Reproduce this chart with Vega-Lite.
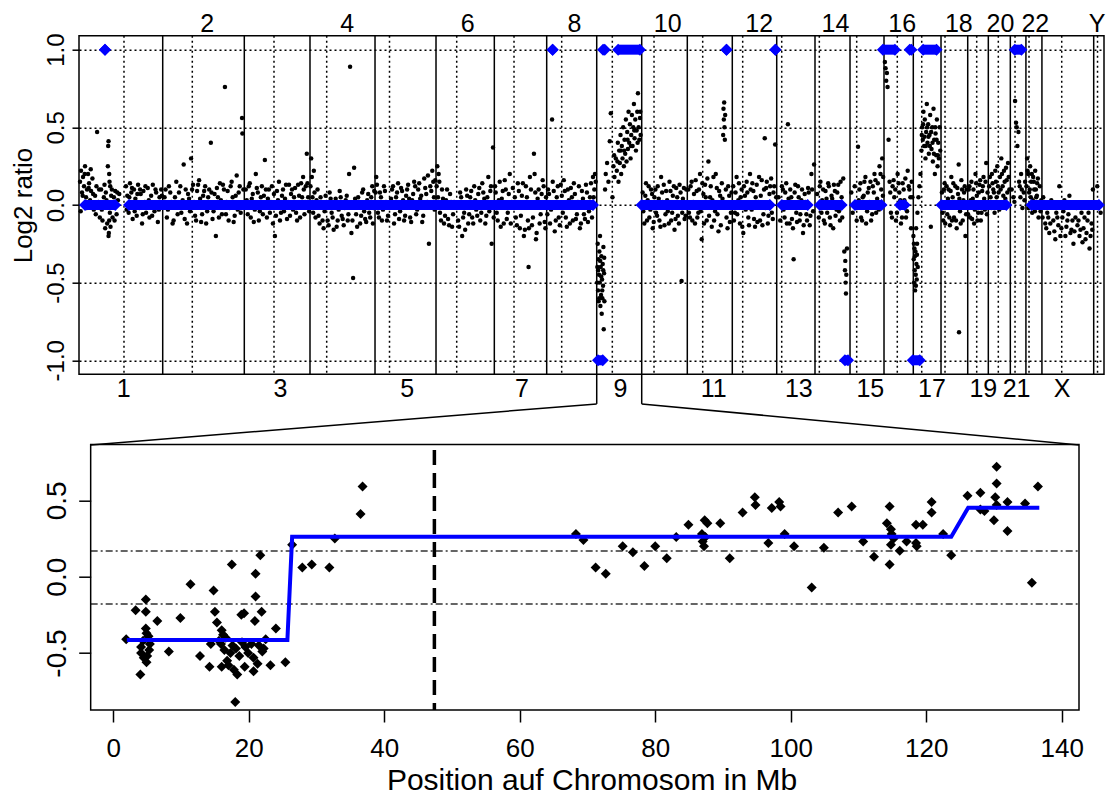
{
"$schema": "https://vega.github.io/schema/vega-lite/v6.json",
"width": 1025,
"height": 674.3,
"autosize": {"type": "none"},
"padding": {"left": 79, "top": 35.7, "right": 3, "bottom": 86},
"background": "white",
"config": {"view": {"stroke": null}, "font": "Liberation Sans", "axis": {"labelFont": "Liberation Sans", "titleFont": "Liberation Sans", "labelColor": "black", "titleColor": "black", "tickColor": "black"}},
"datasets": {
"cen": [{"g":134.1},{"g":337.7},{"g":581.2},{"g":738.3},{"g":925.5},{"g":1125.8},{"g":1296.6},{"g":1438.7},{"g":1589.6},{"g":1713.9},{"g":1859.0},{"g":1978.2},{"g":2094.5},{"g":2206.6},{"g":2318.0},{"g":2439.0},{"g":2511.8},{"g":2581.2},{"g":2675.7},{"g":2740.1},{"g":2789.9},{"g":2831.6},{"g":2929.1},{"g":3035.8}],
"bnd": [{"g":249.5},{"g":492.7},{"g":688.5},{"g":882.3},{"g":1064.1},{"g":1237.9},{"g":1394.0},{"g":1543.1},{"g":1677.2},{"g":1813.1},{"g":1947.2},{"g":2079.6},{"g":2193.7},{"g":2298.1},{"g":2399.4},{"g":2486.7},{"g":2569.3},{"g":2648.9},{"g":2710.3},{"g":2775.9},{"g":2822.4},{"g":2870.1},{"g":3024.4}],
"conn": [{"g":1543.1,"v":-1.09,"g2":1543.1,"v2":-1.281},{"g":1543.1,"v":-1.281,"g2":34.9,"v2":-1.545},{"g":1677.2,"v":-1.09,"g2":1677.2,"v2":-1.281},{"g":1677.2,"v":-1.281,"g2":2980.6,"v2":-1.545}],
"seg": [{"g":18,"g2":108,"v":0},{"g":149,"g2":1532,"v":0},{"g":1677,"g2":2059,"v":0},{"g":2095,"g2":2172,"v":0},{"g":2208,"g2":2273,"v":0},{"g":2313,"g2":2392,"v":0},{"g":2447,"g2":2461,"v":0},{"g":2571,"g2":2764,"v":0},{"g":2839,"g2":3040,"v":0},
{"g":77.5,"g2":77.5,"v":1},{"g":1411.6,"g2":1411.6,"v":1},{"g":1562,"g2":1567,"v":1},{"g":1607,"g2":1672,"v":1},{"g":1930,"g2":1930,"v":1},{"g":2075.6,"g2":2075.6,"v":1},{"g":2396,"g2":2432,"v":1},{"g":2476,"g2":2481,"v":1},{"g":2516,"g2":2556,"v":1},{"g":2789,"g2":2809,"v":1},
{"g":1547,"g2":1561,"v":-1},{"g":2283,"g2":2292,"v":-1},{"g":2485,"g2":2506,"v":-1}],
"gw": [
{"g":3,"v":0.15},{"g":6,"v":0.22},{"g":9,"v":0.08},{"g":12,"v":0.18},{"g":15,"v":0.12},{"g":18,"v":0.25},{"g":21,"v":0.05},{"g":24,"v":0.1},{"g":27,"v":0.2},{"g":30,"v":0.14},{"g":33,"v":0.03},{"g":36,"v":0.09},{"g":40,"v":0.17},{"g":44,"v":-0.03},{"g":48,"v":0.06},{"g":52,"v":0.12},{"g":54,"v":0.47},{"g":58,"v":0.02},{"g":62,"v":-0.08},{"g":66,"v":0.1},{"g":70,"v":-0.1},{"g":74,"v":0.05},{"g":78,"v":-0.15},{"g":80,"v":0.08},{"g":84,"v":-0.12},{"g":86,"v":0.25},{"g":87,"v":0.38},{"g":88,"v":0.41},{"g":88,"v":-0.2},{"g":89,"v":-0.18},{"g":90,"v":0.2},{"g":90,"v":-0.1},{"g":91,"v":0.15},{"g":92,"v":-0.05},{"g":93,"v":0.12},{"g":94,"v":-0.14},{"g":96,"v":0.06},{"g":100,"v":-0.08},{"g":104,"v":0.05},{"g":108,"v":0.09},{"g":112,"v":-0.06},{"g":116,"v":0.03},{"g":120,"v":0.07},{"g":140,"v":0.12},{"g":144,"v":0.06},{"g":148,"v":-0.05},{"g":152,"v":0.14},{"g":156,"v":0.08},{"g":160,"v":-0.09},{"g":164,"v":0.1},{"g":168,"v":0.04},{"g":172,"v":-0.07},{"g":176,"v":0.13},{"g":180,"v":-0.02},{"g":184,"v":0.07},{"g":188,"v":-0.12},{"g":192,"v":0.09},{"g":196,"v":0.02},{"g":200,"v":-0.05},{"g":205,"v":0.11},{"g":210,"v":-0.08},{"g":215,"v":0.06},{"g":220,"v":0.13},{"g":225,"v":-0.04},{"g":230,"v":0.08},{"g":235,"v":-0.11},{"g":240,"v":0.05},{"g":245,"v":0.1},
{"g":5,"v":-0.04},{"g":11,"v":0.06},{"g":17,"v":0.2},{"g":23,"v":-0.02},{"g":29,"v":0.11},{"g":35,"v":0.23},{"g":42,"v":0.07},{"g":50,"v":-0.06},{"g":60,"v":0.1},{"g":68,"v":-0.03},{"g":76,"v":0.13},{"g":82,"v":0.03},{"g":98,"v":0.1},{"g":106,"v":-0.1},{"g":114,"v":0.08},{"g":142,"v":-0.03},{"g":150,"v":0.05},{"g":158,"v":0.11},{"g":166,"v":-0.04},{"g":174,"v":0.07},{"g":182,"v":0.1},{"g":190,"v":-0.06},{"g":198,"v":0.12},{"g":208,"v":0.03},{"g":218,"v":-0.07},{"g":228,"v":0.1},{"g":238,"v":-0.03},{"g":247,"v":0.06},
{"g":255,"v":0.05},{"g":262,"v":-0.08},{"g":268,"v":0.12},{"g":275,"v":0.02},{"g":282,"v":-0.1},{"g":290,"v":0.15},{"g":298,"v":0.08},{"g":305,"v":-0.05},{"g":312,"v":0.26},{"g":318,"v":0.1},{"g":322,"v":-0.12},{"g":328,"v":0.04},{"g":334,"v":0.3},{"g":340,"v":0.13},{"g":346,"v":-0.07},{"g":352,"v":0.09},{"g":358,"v":0.16},{"g":364,"v":-0.11},{"g":370,"v":0.06},{"g":376,"v":0.12},{"g":382,"v":-0.04},{"g":388,"v":0.1},{"g":393,"v":0.4},{"g":398,"v":-0.09},{"g":404,"v":0.07},{"g":408,"v":-0.2},{"g":414,"v":0.05},{"g":420,"v":0.14},{"g":426,"v":-0.06},{"g":432,"v":0.1},{"g":435,"v":0.76},{"g":440,"v":0.02},{"g":446,"v":-0.1},{"g":452,"v":0.12},{"g":458,"v":0.05},{"g":464,"v":-0.07},{"g":470,"v":0.19},{"g":476,"v":0.08},{"g":482,"v":-0.05},{"g":486,"v":0.56},{"g":487,"v":0.46},{"g":490,"v":0.1},
{"g":258,"v":0.1},{"g":265,"v":-0.03},{"g":272,"v":0.08},{"g":279,"v":-0.12},{"g":286,"v":0.05},{"g":294,"v":-0.06},{"g":302,"v":0.12},{"g":309,"v":0.03},{"g":315,"v":-0.09},{"g":325,"v":0.07},{"g":331,"v":-0.04},{"g":337,"v":0.1},{"g":343,"v":0.02},{"g":349,"v":-0.1},{"g":355,"v":0.13},{"g":361,"v":0.04},{"g":367,"v":-0.06},{"g":373,"v":0.09},{"g":379,"v":-0.12},{"g":385,"v":0.05},{"g":395,"v":0.08},{"g":401,"v":-0.04},{"g":411,"v":0.11},{"g":417,"v":-0.08},{"g":423,"v":0.03},{"g":429,"v":0.13},{"g":438,"v":-0.06},{"g":443,"v":0.09},{"g":449,"v":-0.02},{"g":455,"v":0.15},{"g":461,"v":-0.11},{"g":467,"v":0.06},{"g":473,"v":-0.03},{"g":479,"v":0.12},
{"g":497,"v":0.1},{"g":503,"v":-0.06},{"g":509,"v":0.14},{"g":515,"v":0.04},{"g":521,"v":-0.11},{"g":527,"v":0.2},{"g":533,"v":0.08},{"g":539,"v":-0.04},{"g":545,"v":0.12},{"g":551,"v":0.06},{"g":554,"v":0.29},{"g":560,"v":-0.08},{"g":566,"v":0.1},{"g":572,"v":0.02},{"g":578,"v":-0.12},{"g":584,"v":-0.2},{"g":590,"v":0.09},{"g":596,"v":0.15},{"g":602,"v":-0.05},{"g":608,"v":0.1},{"g":614,"v":0.04},{"g":620,"v":-0.09},{"g":626,"v":0.13},{"g":632,"v":0.07},{"g":638,"v":-0.03},{"g":644,"v":0.11},{"g":650,"v":-0.1},{"g":656,"v":0.06},{"g":662,"v":0.14},{"g":668,"v":0.18},{"g":672,"v":-0.06},{"g":676,"v":0.12},{"g":679,"v":0.33},{"g":683,"v":0.05},
{"g":500,"v":0.03},{"g":506,"v":0.12},{"g":512,"v":-0.08},{"g":518,"v":0.07},{"g":524,"v":-0.03},{"g":530,"v":0.11},{"g":536,"v":-0.1},{"g":542,"v":0.05},{"g":548,"v":-0.06},{"g":557,"v":0.1},{"g":563,"v":0.04},{"g":569,"v":-0.05},{"g":575,"v":0.12},{"g":581,"v":0.07},{"g":587,"v":-0.07},{"g":593,"v":0.03},{"g":599,"v":-0.1},{"g":605,"v":0.06},{"g":611,"v":-0.04},{"g":617,"v":0.13},{"g":623,"v":0.02},{"g":629,"v":-0.07},{"g":635,"v":0.1},{"g":641,"v":0.05},{"g":647,"v":-0.05},{"g":653,"v":0.13},{"g":659,"v":-0.08},{"g":665,"v":0.05},{"g":670,"v":0.1},{"g":674,"v":0.02},{"g":681,"v":0.14},{"g":686,"v":-0.04},
{"g":692,"v":0.3},{"g":696,"v":0.05},{"g":700,"v":0.22},{"g":705,"v":-0.08},{"g":711,"v":0.1},{"g":717,"v":-0.12},{"g":723,"v":0.02},{"g":729,"v":-0.15},{"g":735,"v":0.06},{"g":741,"v":-0.1},{"g":747,"v":0.08},{"g":753,"v":-0.05},{"g":759,"v":-0.16},{"g":765,"v":0.04},{"g":771,"v":-0.1},{"g":777,"v":0.09},{"g":783,"v":-0.07},{"g":789,"v":-0.13},{"g":795,"v":0.03},{"g":801,"v":-0.1},{"g":805,"v":0.2},{"g":808,"v":0.89},{"g":812,"v":-0.18},{"g":817,"v":-0.47},{"g":820,"v":0.24},{"g":826,"v":-0.06},{"g":832,"v":0.05},{"g":838,"v":-0.12},{"g":844,"v":0.08},{"g":850,"v":-0.04},{"g":856,"v":-0.11},{"g":862,"v":0.07},{"g":868,"v":-0.08},{"g":874,"v":0.12},{"g":878,"v":-0.02},
{"g":690,"v":0.12},{"g":694,"v":0.18},{"g":698,"v":-0.05},{"g":702,"v":0.08},{"g":708,"v":0.03},{"g":714,"v":-0.07},{"g":720,"v":0.05},{"g":726,"v":-0.1},{"g":732,"v":-0.04},{"g":738,"v":0.02},{"g":744,"v":-0.13},{"g":750,"v":0.04},{"g":756,"v":-0.08},{"g":762,"v":0.01},{"g":768,"v":-0.14},{"g":774,"v":-0.03},{"g":780,"v":0.05},{"g":786,"v":-0.09},{"g":792,"v":-0.02},{"g":798,"v":0.06},{"g":803,"v":-0.06},{"g":815,"v":-0.1},{"g":823,"v":0.04},{"g":829,"v":-0.14},{"g":835,"v":0.02},{"g":841,"v":-0.07},{"g":847,"v":0.1},{"g":853,"v":-0.09},{"g":859,"v":0.03},{"g":865,"v":-0.05},{"g":871,"v":0.05},{"g":876,"v":-0.12},{"g":880,"v":0.09},
{"g":886,"v":0.18},{"g":891,"v":-0.05},{"g":897,"v":0.08},{"g":903,"v":-0.1},{"g":909,"v":0.12},{"g":915,"v":0.02},{"g":921,"v":-0.07},{"g":933,"v":0.1},{"g":939,"v":-0.12},{"g":945,"v":0.05},{"g":951,"v":0.14},{"g":957,"v":-0.04},{"g":963,"v":0.09},{"g":969,"v":-0.1},{"g":975,"v":0.06},{"g":981,"v":0.13},{"g":987,"v":-0.08},{"g":993,"v":0.03},{"g":999,"v":0.15},{"g":1005,"v":-0.06},{"g":1011,"v":0.1},{"g":1017,"v":0.04},{"g":1023,"v":-0.11},{"g":1029,"v":0.17},{"g":1035,"v":0.07},{"g":1043,"v":-0.25},{"g":1047,"v":0.12},{"g":1053,"v":0.22},{"g":1058,"v":0.05},{"g":1062,"v":0.16},
{"g":884,"v":0.08},{"g":888,"v":0.13},{"g":894,"v":-0.08},{"g":900,"v":0.05},{"g":906,"v":-0.03},{"g":912,"v":0.09},{"g":918,"v":-0.1},{"g":930,"v":0.04},{"g":936,"v":0.12},{"g":942,"v":-0.06},{"g":948,"v":0.08},{"g":954,"v":-0.09},{"g":960,"v":0.11},{"g":966,"v":0.03},{"g":972,"v":-0.07},{"g":978,"v":0.1},{"g":984,"v":0.04},{"g":990,"v":-0.11},{"g":996,"v":0.07},{"g":1002,"v":0.12},{"g":1008,"v":-0.03},{"g":1014,"v":0.14},{"g":1020,"v":0.06},{"g":1026,"v":-0.07},{"g":1032,"v":0.11},{"g":1038,"v":0.02},{"g":1040,"v":0.19},{"g":1050,"v":0.09},{"g":1056,"v":0.15},{"g":1060,"v":-0.03},
{"g":1068,"v":0.25},{"g":1072,"v":0.2},{"g":1076,"v":-0.05},{"g":1082,"v":0.1},{"g":1088,"v":-0.12},{"g":1094,"v":0.03},{"g":1100,"v":-0.09},{"g":1106,"v":0.07},{"g":1112,"v":-0.14},{"g":1118,"v":0.02},{"g":1130,"v":-0.1},{"g":1136,"v":0.08},{"g":1142,"v":-0.2},{"g":1148,"v":-0.05},{"g":1154,"v":0.1},{"g":1160,"v":-0.12},{"g":1166,"v":0.05},{"g":1172,"v":-0.08},{"g":1178,"v":0.12},{"g":1184,"v":-0.03},{"g":1190,"v":0.07},{"g":1196,"v":-0.1},{"g":1202,"v":0.14},{"g":1208,"v":0.04},{"g":1214,"v":-0.07},{"g":1220,"v":0.18},{"g":1226,"v":0.09},{"g":1230,"v":-0.25},{"g":1234,"v":0.37},
{"g":1066,"v":0.12},{"g":1070,"v":0.05},{"g":1074,"v":0.15},{"g":1079,"v":-0.1},{"g":1085,"v":0.04},{"g":1091,"v":-0.07},{"g":1097,"v":0.1},{"g":1103,"v":-0.13},{"g":1109,"v":0.02},{"g":1115,"v":-0.06},{"g":1133,"v":-0.14},{"g":1139,"v":0.05},{"g":1145,"v":-0.08},{"g":1151,"v":-0.16},{"g":1157,"v":0.06},{"g":1163,"v":-0.06},{"g":1169,"v":0.09},{"g":1175,"v":-0.12},{"g":1181,"v":0.03},{"g":1187,"v":-0.07},{"g":1193,"v":0.11},{"g":1199,"v":-0.05},{"g":1205,"v":0.08},{"g":1211,"v":-0.12},{"g":1217,"v":0.05},{"g":1223,"v":-0.04},{"g":1228,"v":0.12},{"g":1236,"v":-0.08},
{"g":1242,"v":0.08},{"g":1248,"v":-0.1},{"g":1254,"v":0.15},{"g":1260,"v":0.04},{"g":1266,"v":-0.12},{"g":1272,"v":0.1},{"g":1278,"v":-0.05},{"g":1284,"v":0.2},{"g":1290,"v":0.02},{"g":1302,"v":-0.08},{"g":1308,"v":0.14},{"g":1314,"v":-0.15},{"g":1320,"v":0.06},{"g":1326,"v":-0.2},{"g":1332,"v":0.12},{"g":1338,"v":-0.1},{"g":1340,"v":-0.4},{"g":1344,"v":0.18},{"g":1350,"v":-0.13},{"g":1356,"v":0.33},{"g":1360,"v":0.08},{"g":1364,"v":-0.18},{"g":1370,"v":0.1},{"g":1376,"v":-0.06},{"g":1382,"v":0.16},{"g":1388,"v":-0.11},{"g":1392,"v":0.05},
{"g":1240,"v":0.12},{"g":1245,"v":-0.05},{"g":1251,"v":0.03},{"g":1257,"v":-0.14},{"g":1263,"v":0.09},{"g":1269,"v":0.16},{"g":1275,"v":-0.09},{"g":1281,"v":0.07},{"g":1287,"v":-0.12},{"g":1293,"v":0.11},{"g":1299,"v":0.05},{"g":1305,"v":-0.13},{"g":1311,"v":0.09},{"g":1317,"v":-0.07},{"g":1323,"v":0.14},{"g":1329,"v":-0.16},{"g":1335,"v":0.05},{"g":1341,"v":-0.15},{"g":1347,"v":0.1},{"g":1353,"v":-0.08},{"g":1358,"v":0.2},{"g":1362,"v":-0.22},{"g":1367,"v":0.04},{"g":1373,"v":-0.12},{"g":1379,"v":0.07},{"g":1385,"v":0.12},{"g":1390,"v":-0.15},
{"g":1398,"v":0.1},{"g":1404,"v":-0.12},{"g":1410,"v":0.55},{"g":1412,"v":0.15},{"g":1418,"v":-0.17},{"g":1424,"v":0.05},{"g":1430,"v":-0.08},{"g":1436,"v":0.13},{"g":1442,"v":-0.05},{"g":1448,"v":0.09},{"g":1454,"v":-0.14},{"g":1460,"v":0.03},{"g":1466,"v":0.11},{"g":1472,"v":-0.1},{"g":1478,"v":0.07},{"g":1484,"v":-0.06},{"g":1490,"v":0.12},{"g":1496,"v":-0.12},{"g":1502,"v":0.04},{"g":1508,"v":-0.09},{"g":1514,"v":0.08},{"g":1520,"v":-0.04},{"g":1526,"v":0.14},{"g":1532,"v":0.18},{"g":1536,"v":0.1},{"g":1540,"v":0.15},
{"g":1396,"v":-0.06},{"g":1401,"v":0.07},{"g":1407,"v":-0.03},{"g":1415,"v":0.09},{"g":1421,"v":-0.1},{"g":1427,"v":0.12},{"g":1433,"v":-0.13},{"g":1439,"v":0.06},{"g":1445,"v":0.16},{"g":1451,"v":-0.08},{"g":1457,"v":0.1},{"g":1463,"v":-0.12},{"g":1469,"v":0.05},{"g":1475,"v":0.14},{"g":1481,"v":-0.09},{"g":1487,"v":0.02},{"g":1493,"v":-0.15},{"g":1499,"v":0.09},{"g":1505,"v":-0.06},{"g":1511,"v":0.13},{"g":1517,"v":-0.11},{"g":1523,"v":0.05},{"g":1529,"v":-0.08},{"g":1534,"v":0.05},{"g":1538,"v":0.2},
{"g":1545,"v":-0.4},{"g":1546,"v":-0.25},{"g":1547,"v":-0.55},{"g":1548,"v":-0.35},{"g":1549,"v":-0.62},{"g":1550,"v":-0.45},{"g":1551,"v":-0.3},{"g":1552,"v":-0.5},{"g":1553,"v":-0.2},{"g":1554,"v":-0.65},{"g":1555,"v":-0.4},{"g":1556,"v":-0.58},{"g":1557,"v":-0.33},{"g":1558,"v":-0.7},{"g":1559,"v":-0.48},{"g":1560,"v":-0.6},{"g":1561,"v":-0.38},{"g":1562,"v":-0.52},{"g":1563,"v":-0.27},{"g":1564,"v":-0.8},{"g":1565,"v":-0.44},{"g":1566,"v":-0.62},{"g":1568,"v":0.1},{"g":1570,"v":0.2},{"g":1574,"v":0.27},{"g":1578,"v":0.15},{"g":1582,"v":0.41},{"g":1585,"v":0.59},{"g":1590,"v":0.05},{"g":1593,"v":0.25},{"g":1596,"v":0.18},{"g":1600,"v":0.3},{"g":1603,"v":0.22},{"g":1606,"v":0.4},{"g":1608,"v":0.15},{"g":1610,"v":0.35},{"g":1612,"v":0.27},{"g":1614,"v":0.45},{"g":1616,"v":0.2},{"g":1618,"v":0.38},{"g":1620,"v":0.3},{"g":1622,"v":0.5},{"g":1624,"v":0.25},{"g":1626,"v":0.42},{"g":1628,"v":0.33},{"g":1630,"v":0.55},{"g":1632,"v":0.28},{"g":1634,"v":0.47},{"g":1636,"v":0.36},{"g":1638,"v":0.6},{"g":1640,"v":0.4},{"g":1642,"v":0.52},{"g":1644,"v":0.3},{"g":1646,"v":0.45},{"g":1648,"v":0.58},{"g":1650,"v":0.38},{"g":1652,"v":0.5},{"g":1654,"v":0.65},{"g":1656,"v":0.43},{"g":1658,"v":0.55},{"g":1660,"v":0.35},{"g":1662,"v":0.48},{"g":1664,"v":0.6},{"g":1666,"v":0.72},{"g":1668,"v":0.5},{"g":1670,"v":0.42},{"g":1672,"v":0.56},{"g":1674,"v":0.45},
{"g":1544.5,"v":-0.5},{"g":1547.5,"v":-0.42},{"g":1550.5,"v":-0.6},{"g":1553.5,"v":-0.36},{"g":1556.5,"v":-0.46},{"g":1559.5,"v":-0.55},{"g":1562.5,"v":-0.42},{"g":1565.5,"v":-0.34},{"g":1595,"v":0.32},{"g":1605,"v":0.28},{"g":1615,"v":0.35},{"g":1625,"v":0.35},{"g":1635,"v":0.42},{"g":1645,"v":0.38},{"g":1655,"v":0.48},{"g":1665,"v":0.4},{"g":1673,"v":0.6},
{"g":1680,"v":0.08},{"g":1685,"v":-0.12},{"g":1690,"v":0.14},{"g":1695,"v":0.03},{"g":1700,"v":-0.08},{"g":1705,"v":0.1},{"g":1710,"v":-0.15},{"g":1715,"v":0.05},{"g":1720,"v":-0.05},{"g":1725,"v":0.12},{"g":1730,"v":-0.1},{"g":1735,"v":0.18},{"g":1740,"v":0.02},{"g":1745,"v":-0.13},{"g":1750,"v":0.09},{"g":1755,"v":-0.04},{"g":1760,"v":0.15},{"g":1765,"v":-0.1},{"g":1770,"v":0.06},{"g":1775,"v":-0.16},{"g":1780,"v":0.11},{"g":1785,"v":-0.07},{"g":1790,"v":0.13},{"g":1796,"v":-0.49},{"g":1800,"v":0.04},{"g":1805,"v":-0.09},{"g":1810,"v":0.1},
{"g":1682,"v":-0.04},{"g":1688,"v":0.06},{"g":1693,"v":-0.1},{"g":1698,"v":0.12},{"g":1703,"v":-0.03},{"g":1708,"v":0.07},{"g":1713,"v":-0.11},{"g":1718,"v":0.1},{"g":1723,"v":-0.07},{"g":1728,"v":0.04},{"g":1733,"v":-0.14},{"g":1738,"v":0.08},{"g":1743,"v":0.13},{"g":1748,"v":-0.06},{"g":1753,"v":0.03},{"g":1758,"v":-0.12},{"g":1763,"v":0.09},{"g":1768,"v":-0.05},{"g":1773,"v":0.12},{"g":1778,"v":-0.09},{"g":1783,"v":0.05},{"g":1788,"v":-0.12},{"g":1793,"v":0.08},{"g":1798,"v":-0.05},{"g":1803,"v":0.11},{"g":1808,"v":-0.07},
{"g":1816,"v":0.1},{"g":1821,"v":-0.08},{"g":1826,"v":0.15},{"g":1831,"v":0.02},{"g":1836,"v":-0.12},{"g":1841,"v":0.09},{"g":1846,"v":-0.05},{"g":1851,"v":0.2},{"g":1856,"v":-0.22},{"g":1861,"v":0.07},{"g":1866,"v":0.13},{"g":1871,"v":-0.1},{"g":1876,"v":0.28},{"g":1881,"v":0.05},{"g":1886,"v":-0.14},{"g":1891,"v":0.18},{"g":1896,"v":-0.04},{"g":1901,"v":0.11},{"g":1906,"v":-0.17},{"g":1911,"v":0.06},{"g":1916,"v":0.14},{"g":1920,"v":0.45},{"g":1921,"v":0.62},{"g":1922,"v":0.55},{"g":1923,"v":0.66},{"g":1924,"v":0.5},{"g":1925,"v":0.42},{"g":1926,"v":0.58},{"g":1930,"v":-0.08},{"g":1935,"v":0.12},{"g":1940,"v":-0.11},{"g":1945,"v":0.08},
{"g":1818,"v":-0.05},{"g":1823,"v":0.12},{"g":1828,"v":-0.1},{"g":1833,"v":0.07},{"g":1838,"v":0.16},{"g":1843,"v":-0.08},{"g":1848,"v":0.1},{"g":1853,"v":-0.04},{"g":1858,"v":0.14},{"g":1863,"v":-0.12},{"g":1868,"v":0.05},{"g":1873,"v":0.17},{"g":1878,"v":-0.07},{"g":1883,"v":0.12},{"g":1888,"v":0.03},{"g":1893,"v":-0.1},{"g":1898,"v":0.2},{"g":1903,"v":-0.06},{"g":1908,"v":0.09},{"g":1913,"v":-0.13},{"g":1918,"v":0.04},{"g":1928,"v":0.1},{"g":1933,"v":-0.15},{"g":1938,"v":0.06},{"g":1943,"v":-0.05},
{"g":1950,"v":0.12},{"g":1955,"v":-0.05},{"g":1960,"v":0.18},{"g":1965,"v":0.03},{"g":1970,"v":-0.12},{"g":1975,"v":0.1},{"g":1980,"v":-0.18},{"g":1985,"v":0.06},{"g":1990,"v":0.15},{"g":1995,"v":-0.08},{"g":2000,"v":0.2},{"g":2005,"v":-0.03},{"g":2010,"v":0.09},{"g":2015,"v":-0.14},{"g":2020,"v":0.13},{"g":2025,"v":0.02},{"g":2030,"v":-0.1},{"g":2035,"v":0.16},{"g":2040,"v":-0.06},{"g":2044,"v":0.43},{"g":2048,"v":0.11},{"g":2053,"v":-0.12},{"g":2058,"v":0.07},{"g":2063,"v":0.17},{"g":2068,"v":-0.09},{"g":2072,"v":0.12},{"g":2075,"v":0.39},{"g":2078,"v":0.05},
{"g":1952,"v":-0.1},{"g":1957,"v":0.08},{"g":1962,"v":-0.06},{"g":1967,"v":0.14},{"g":1972,"v":0.05},{"g":1977,"v":-0.14},{"g":1982,"v":0.12},{"g":1987,"v":-0.03},{"g":1992,"v":0.08},{"g":1997,"v":-0.13},{"g":2002,"v":0.1},{"g":2007,"v":0.14},{"g":2012,"v":-0.09},{"g":2017,"v":0.05},{"g":2022,"v":-0.11},{"g":2027,"v":0.18},{"g":2032,"v":0.06},{"g":2037,"v":-0.13},{"g":2042,"v":0.1},{"g":2046,"v":-0.02},{"g":2050,"v":0.15},{"g":2055,"v":-0.07},{"g":2060,"v":0.12},{"g":2065,"v":-0.05},{"g":2070,"v":0.08},
{"g":2098,"v":0.1},{"g":2103,"v":-0.08},{"g":2108,"v":0.14},{"g":2113,"v":0.52},{"g":2118,"v":-0.12},{"g":2123,"v":0.05},{"g":2128,"v":-0.15},{"g":2130,"v":-0.35},{"g":2133,"v":0.08},{"g":2138,"v":-0.05},{"g":2143,"v":0.12},{"g":2148,"v":-0.1},{"g":2153,"v":0.03},{"g":2158,"v":-0.18},{"g":2163,"v":0.07},{"g":2168,"v":-0.06},{"g":2173,"v":0.11},{"g":2178,"v":-0.13},{"g":2183,"v":0.2},{"g":2188,"v":-0.04},{"g":2191,"v":0.26},
{"g":2085,"v":0.05},{"g":2090,"v":-0.1},{"g":2095,"v":0.12},{"g":2100,"v":-0.03},{"g":2105,"v":0.08},{"g":2110,"v":-0.12},{"g":2115,"v":0.04},{"g":2120,"v":0.1},{"g":2125,"v":-0.09},{"g":2135,"v":0.13},{"g":2140,"v":-0.11},{"g":2145,"v":0.05},{"g":2150,"v":-0.06},{"g":2155,"v":0.1},{"g":2160,"v":-0.13},{"g":2165,"v":0.02},{"g":2170,"v":-0.1},{"g":2175,"v":0.08},{"g":2180,"v":-0.07},{"g":2185,"v":0.1},
{"g":2208,"v":0.12},{"g":2213,"v":-0.05},{"g":2218,"v":0.1},{"g":2223,"v":-0.12},{"g":2228,"v":0.04},{"g":2233,"v":0.14},{"g":2238,"v":-0.08},{"g":2243,"v":0.06},{"g":2248,"v":-0.15},{"g":2253,"v":0.09},{"g":2258,"v":-0.03},{"g":2263,"v":0.13},{"g":2268,"v":-0.1},{"g":2273,"v":0.05},{"g":2278,"v":0.17},{"g":2281,"v":-0.3},{"g":2283,"v":-0.42},{"g":2284,"v":-0.36},{"g":2285,"v":-0.5},{"g":2286,"v":-0.57},{"g":2287,"v":-0.45},{"g":2289,"v":-0.28},
{"g":2200,"v":0.07},{"g":2205,"v":-0.08},{"g":2210,"v":0.15},{"g":2215,"v":0.03},{"g":2220,"v":-0.1},{"g":2225,"v":0.09},{"g":2230,"v":-0.05},{"g":2235,"v":0.12},{"g":2240,"v":-0.13},{"g":2245,"v":0.04},{"g":2250,"v":0.13},{"g":2255,"v":-0.07},{"g":2260,"v":0.08},{"g":2265,"v":-0.04},{"g":2270,"v":0.15},{"g":2275,"v":-0.08},
{"g":2322,"v":0.375},{"g":2326,"v":0.1},{"g":2331,"v":-0.08},{"g":2336,"v":0.05},{"g":2341,"v":0.15},{"g":2346,"v":-0.12},{"g":2351,"v":0.08},{"g":2356,"v":0.02},{"g":2361,"v":-0.1},{"g":2366,"v":0.12},{"g":2371,"v":0.2},{"g":2376,"v":-0.05},{"g":2381,"v":0.14},{"g":2386,"v":0.25},{"g":2391,"v":0.1},{"g":2394,"v":0.3},{"g":2397,"v":0.18},
{"g":2302,"v":0.08},{"g":2306,"v":-0.05},{"g":2312,"v":0.12},{"g":2318,"v":-0.1},{"g":2324,"v":0.03},{"g":2329,"v":0.14},{"g":2334,"v":-0.1},{"g":2339,"v":0.06},{"g":2344,"v":0.18},{"g":2349,"v":-0.04},{"g":2354,"v":0.11},{"g":2359,"v":0.15},{"g":2364,"v":-0.06},{"g":2369,"v":0.08},{"g":2374,"v":0.16},{"g":2379,"v":0.04},{"g":2384,"v":-0.03},{"g":2389,"v":0.2},{"g":2396,"v":0.06},
{"g":2402,"v":0.92},{"g":2404,"v":0.88},{"g":2406,"v":0.8},{"g":2408,"v":0.85},{"g":2410,"v":0.76},{"g":2413,"v":0.42},{"g":2416,"v":0.15},{"g":2420,"v":-0.05},{"g":2425,"v":0.12},{"g":2430,"v":0.05},{"g":2435,"v":-0.1},{"g":2440,"v":0.2},{"g":2445,"v":0.08},{"g":2450,"v":-0.12},{"g":2455,"v":0.14},{"g":2460,"v":0.03},{"g":2465,"v":-0.08},{"g":2470,"v":0.22},{"g":2475,"v":0.1},{"g":2480,"v":-0.15},{"g":2484,"v":0.05},
{"g":2418,"v":0.08},{"g":2423,"v":-0.08},{"g":2428,"v":0.16},{"g":2433,"v":0.1},{"g":2438,"v":-0.05},{"g":2443,"v":0.14},{"g":2448,"v":0.03},{"g":2453,"v":-0.08},{"g":2458,"v":0.1},{"g":2463,"v":0.17},{"g":2468,"v":-0.04},{"g":2473,"v":0.12},{"g":2478,"v":0.05},{"g":2482,"v":0.15},
{"g":2487,"v":-0.2},{"g":2488,"v":-0.35},{"g":2489,"v":-0.5},{"g":2490,"v":-0.28},{"g":2491,"v":-0.42},{"g":2492,"v":-0.55},{"g":2493,"v":-0.3},{"g":2494,"v":-0.45},{"g":2495,"v":-0.15},{"g":2496,"v":-0.38},{"g":2497,"v":-0.48},{"g":2498,"v":-0.25},{"g":2499,"v":-0.05},{"g":2500,"v":-0.4},{"g":2502,"v":0.05},{"g":2505,"v":0.12},{"g":2508,"v":0.2},{"g":2511,"v":0.35},{"g":2513,"v":0.5},{"g":2515,"v":0.42},{"g":2517,"v":0.6},{"g":2519,"v":0.38},{"g":2521,"v":0.55},{"g":2523,"v":0.3},{"g":2525,"v":0.47},{"g":2527,"v":0.65},{"g":2529,"v":0.4},{"g":2531,"v":0.52},{"g":2533,"v":0.33},{"g":2535,"v":0.45},{"g":2537,"v":0.58},{"g":2539,"v":-0.14},{"g":2541,"v":0.36},{"g":2543,"v":0.5},{"g":2545,"v":0.28},{"g":2547,"v":0.62},{"g":2549,"v":0.42},{"g":2551,"v":0.2},{"g":2553,"v":0.46},{"g":2555,"v":0.32},{"g":2557,"v":0.55},{"g":2559,"v":0.25},{"g":2561,"v":0.4},{"g":2563,"v":0.3},{"g":2565,"v":0.5},{"g":2567,"v":0.35},
{"g":2488.5,"v":-0.25},{"g":2491.5,"v":-0.33},{"g":2494.5,"v":-0.52},{"g":2497.5,"v":-0.32},{"g":2512,"v":0.45},{"g":2516,"v":0.52},{"g":2520,"v":0.44},{"g":2524,"v":0.38},{"g":2528,"v":0.5},{"g":2532,"v":0.44},{"g":2536,"v":0.38},{"g":2540,"v":0.47},{"g":2544,"v":0.4},{"g":2548,"v":0.33},{"g":2552,"v":0.5},{"g":2556,"v":0.42},{"g":2560,"v":0.32},
{"g":2572,"v":0.08},{"g":2576,"v":-0.1},{"g":2580,"v":0.14},{"g":2584,"v":0.02},{"g":2588,"v":-0.06},{"g":2592,"v":0.1},{"g":2596,"v":-0.13},{"g":2600,"v":0.18},{"g":2604,"v":0.05},{"g":2608,"v":-0.08},{"g":2612,"v":0.12},{"g":2616,"v":-0.15},{"g":2620,"v":0.07},{"g":2622,"v":0.26},{"g":2623,"v":-0.82},{"g":2626,"v":-0.04},{"g":2630,"v":0.16},{"g":2634,"v":-0.1},{"g":2638,"v":0.08},{"g":2642,"v":-0.2},{"g":2646,"v":0.1},
{"g":2574,"v":-0.05},{"g":2578,"v":0.1},{"g":2582,"v":-0.12},{"g":2586,"v":0.12},{"g":2590,"v":0.04},{"g":2594,"v":-0.08},{"g":2598,"v":0.09},{"g":2602,"v":-0.1},{"g":2606,"v":0.14},{"g":2610,"v":0.02},{"g":2614,"v":-0.1},{"g":2618,"v":0.11},{"g":2624,"v":0.04},{"g":2628,"v":-0.12},{"g":2632,"v":0.1},{"g":2636,"v":0.03},{"g":2640,"v":0.12},{"g":2644,"v":-0.06},
{"g":2652,"v":0.1},{"g":2656,"v":-0.08},{"g":2660,"v":0.15},{"g":2664,"v":0.04},{"g":2668,"v":-0.12},{"g":2672,"v":0.2},{"g":2676,"v":0.06},{"g":2680,"v":-0.05},{"g":2684,"v":0.13},{"g":2688,"v":-0.1},{"g":2692,"v":0.09},{"g":2696,"v":0.18},{"g":2700,"v":-0.03},{"g":2704,"v":0.27},{"g":2708,"v":0.08},
{"g":2650,"v":-0.06},{"g":2654,"v":0.12},{"g":2658,"v":0.03},{"g":2662,"v":-0.09},{"g":2666,"v":0.1},{"g":2670,"v":-0.03},{"g":2674,"v":0.14},{"g":2678,"v":-0.1},{"g":2682,"v":0.08},{"g":2686,"v":0.16},{"g":2690,"v":-0.05},{"g":2694,"v":0.12},{"g":2698,"v":0.04},{"g":2702,"v":0.15},{"g":2706,"v":-0.06},
{"g":2713,"v":0.12},{"g":2717,"v":0.05},{"g":2721,"v":0.2},{"g":2725,"v":0.1},{"g":2729,"v":-0.05},{"g":2733,"v":0.15},{"g":2737,"v":0.25},{"g":2741,"v":0.08},{"g":2745,"v":0.18},{"g":2749,"v":0.3},{"g":2753,"v":0.12},{"g":2757,"v":0.22},{"g":2761,"v":0.04},{"g":2765,"v":0.16},{"g":2769,"v":0.27},{"g":2773,"v":0.1},
{"g":2711,"v":0.02},{"g":2715,"v":0.18},{"g":2719,"v":-0.02},{"g":2723,"v":0.14},{"g":2727,"v":0.08},{"g":2731,"v":0.22},{"g":2735,"v":0.05},{"g":2739,"v":0.12},{"g":2743,"v":-0.03},{"g":2747,"v":0.1},{"g":2751,"v":0.2},{"g":2755,"v":0.06},{"g":2759,"v":0.15},{"g":2763,"v":0.24},{"g":2767,"v":0.08},{"g":2771,"v":0.18},
{"g":2785,"v":0.05},{"g":2790,"v":0.67},{"g":2793,"v":0.53},{"g":2795,"v":0.5},{"g":2797,"v":0.38},{"g":2800,"v":0.47},{"g":2804,"v":0.12},{"g":2808,"v":0.2},{"g":2812,"v":-0.02},{"g":2816,"v":0.08},
{"g":2780,"v":0.1},{"g":2788,"v":0.02},{"g":2802,"v":0.15},{"g":2806,"v":0.05},{"g":2810,"v":0.1},{"g":2818,"v":0.03},{"g":2820,"v":0.15},
{"g":2826,"v":0.3},{"g":2829,"v":0.2},{"g":2832,"v":0.08},{"g":2835,"v":0.25},{"g":2838,"v":0.15},{"g":2841,"v":-0.05},{"g":2844,"v":0.18},{"g":2847,"v":0.1},{"g":2850,"v":0.22},{"g":2853,"v":0.05},{"g":2856,"v":0.14},{"g":2860,"v":-0.08},{"g":2864,"v":0.12},{"g":2868,"v":0.03},
{"g":2824,"v":0.12},{"g":2827,"v":0.22},{"g":2830,"v":-0.02},{"g":2834,"v":0.1},{"g":2837,"v":0.05},{"g":2840,"v":0.2},{"g":2843,"v":0.03},{"g":2846,"v":0.15},{"g":2849,"v":-0.04},{"g":2852,"v":0.1},{"g":2855,"v":0.06},{"g":2858,"v":0.17},{"g":2862,"v":0.02},{"g":2866,"v":-0.04},
{"g":2874,"v":0.05},{"g":2880,"v":-0.12},{"g":2886,"v":-0.05},{"g":2892,"v":-0.18},{"g":2898,"v":0.03},{"g":2904,"v":-0.1},{"g":2910,"v":-0.22},{"g":2916,"v":-0.08},{"g":2922,"v":0.12},{"g":2928,"v":-0.15},{"g":2934,"v":-0.04},{"g":2940,"v":-0.2},{"g":2946,"v":-0.1},{"g":2952,"v":0.06},{"g":2958,"v":-0.16},{"g":2964,"v":-0.25},{"g":2970,"v":-0.08},{"g":2976,"v":-0.13},{"g":2982,"v":-0.2},{"g":2988,"v":-0.05},{"g":2994,"v":-0.15},{"g":3000,"v":-0.22},{"g":3006,"v":-0.1},{"g":3012,"v":-0.28},{"g":3018,"v":-0.12},{"g":3022,"v":0.1},
{"g":2872,"v":-0.08},{"g":2877,"v":0.02},{"g":2883,"v":-0.15},{"g":2889,"v":-0.08},{"g":2895,"v":-0.12},{"g":2901,"v":0.02},{"g":2907,"v":-0.17},{"g":2913,"v":-0.05},{"g":2919,"v":-0.13},{"g":2925,"v":-0.2},{"g":2931,"v":-0.08},{"g":2937,"v":0.03},{"g":2943,"v":-0.14},{"g":2949,"v":-0.06},{"g":2955,"v":-0.18},{"g":2961,"v":-0.1},{"g":2967,"v":-0.17},{"g":2973,"v":-0.02},{"g":2979,"v":-0.1},{"g":2985,"v":-0.16},{"g":2991,"v":-0.24},{"g":2997,"v":-0.08},{"g":3003,"v":-0.18},{"g":3009,"v":-0.05},{"g":3015,"v":-0.2},{"g":3020,"v":-0.16},
{"g":3035,"v":0.12},{"g":3045,"v":-0.05}
],
"thr": [{"v":0.168},{"v":-0.179}],
"cen9": [{"mb":47.4}],
"step": [{"mb":2.0,"v":-0.415},{"mb":25.7,"v":-0.415},{"mb":26.4,"v":0.262},{"mb":123.7,"v":0.262},{"mb":126.2,"v":0.452},{"mb":136.7,"v":0.452}],
"c9": [
{"mb":1.9,"v":-0.41},{"mb":3.3,"v":-0.22},{"mb":4.8,"v":-0.15},{"mb":4.8,"v":-0.23},{"mb":4.0,"v":-0.64},{"mb":4.8,"v":-0.34},{"mb":4.9,"v":-0.37},{"mb":5.2,"v":-0.39},{"mb":5.4,"v":-0.44},{"mb":4.1,"v":-0.5},{"mb":4.5,"v":-0.53},{"mb":4.9,"v":-0.56},{"mb":5.0,"v":-0.52},{"mb":4.1,"v":-0.46},{"mb":6.5,"v":-0.29},{"mb":8.2,"v":-0.49},{"mb":9.9,"v":-0.27},{"mb":11.4,"v":-0.05},{"mb":12.8,"v":-0.52},{"mb":14.2,"v":-0.59},{"mb":14.8,"v":-0.09},{"mb":15.0,"v":-0.23},{"mb":15.3,"v":-0.3},{"mb":14.4,"v":-0.44},{"mb":16.0,"v":-0.35},{"mb":15.9,"v":-0.44},{"mb":16.2,"v":-0.38},{"mb":16.6,"v":-0.4},{"mb":16.0,"v":-0.59},{"mb":16.8,"v":-0.55},{"mb":17.0,"v":-0.58},{"mb":17.5,"v":0.08},{"mb":17.8,"v":-0.61},{"mb":18.3,"v":-0.64},{"mb":18.0,"v":-0.82},{"mb":17.3,"v":-0.5},{"mb":18.1,"v":-0.47},{"mb":18.9,"v":-0.25},{"mb":19.3,"v":-0.24},{"mb":19.5,"v":-0.46},{"mb":19.4,"v":-0.59},{"mb":19.9,"v":-0.5},{"mb":20.4,"v":-0.44},{"mb":20.7,"v":-0.53},{"mb":20.7,"v":-0.62},{"mb":20.9,"v":-0.29},{"mb":21.0,"v":-0.13},{"mb":21.0,"v":0.02},{"mb":21.7,"v":0.14},{"mb":21.9,"v":-0.23},{"mb":22.0,"v":-0.49},{"mb":21.3,"v":-0.57},{"mb":22.5,"v":-0.41},{"mb":23.2,"v":-0.58},{"mb":24.0,"v":-0.34},{"mb":25.4,"v":-0.56},{"mb":26.4,"v":0.21},{"mb":27.9,"v":0.06},{"mb":29.3,"v":0.08},{"mb":31.9,"v":0.06},{"mb":32.7,"v":0.25},{"mb":36.5,"v":0.41},{"mb":36.8,"v":0.59},
{"mb":15.6,"v":-0.42},{"mb":17.6,"v":-0.45},{"mb":18.6,"v":-0.52},{"mb":19.0,"v":-0.43},{"mb":16.4,"v":-0.48},{"mb":21.5,"v":-0.45},{"mb":22.2,"v":-0.47},{"mb":5.3,"v":-0.48},{"mb":4.4,"v":-0.42},
{"mb":68.3,"v":0.28},{"mb":69.4,"v":0.24},{"mb":71.2,"v":0.06},{"mb":72.7,"v":0.02},{"mb":75.2,"v":0.2},{"mb":76.7,"v":0.16},{"mb":78.4,"v":0.07},{"mb":80.0,"v":0.2},{"mb":81.7,"v":0.12},{"mb":83.1,"v":0.26},{"mb":84.9,"v":0.34},{"mb":86.9,"v":0.28},{"mb":87.0,"v":0.23},{"mb":87.2,"v":0.2},{"mb":87.3,"v":0.37},{"mb":87.7,"v":0.35},{"mb":89.6,"v":0.35},{"mb":91.0,"v":0.12},{"mb":92.9,"v":0.42},{"mb":94.7,"v":0.52},{"mb":94.8,"v":0.47},{"mb":96.7,"v":0.22},{"mb":97.2,"v":0.45},{"mb":98.3,"v":0.49},{"mb":98.5,"v":0.46},{"mb":99.1,"v":0.28},{"mb":100.5,"v":0.2},{"mb":103.1,"v":-0.07},{"mb":104.9,"v":0.19},{"mb":107.0,"v":0.42},{"mb":109.0,"v":0.46},{"mb":110.7,"v":0.23},{"mb":112.3,"v":0.13},{"mb":114.2,"v":0.35},{"mb":114.6,"v":0.46},{"mb":114.8,"v":0.31},{"mb":114.9,"v":0.28},{"mb":114.8,"v":0.21},{"mb":114.6,"v":0.08},{"mb":116.1,"v":0.17},{"mb":117.1,"v":0.23},{"mb":118.5,"v":0.34},{"mb":119.5,"v":0.34},{"mb":118.5,"v":0.22},{"mb":118.6,"v":0.2},{"mb":120.8,"v":0.49},{"mb":120.8,"v":0.42},{"mb":122.5,"v":0.28},{"mb":123.7,"v":0.14},{"mb":126.1,"v":0.53},{"mb":128.0,"v":0.55},{"mb":128.0,"v":0.44},{"mb":128.6,"v":0.43},{"mb":130.0,"v":0.37},{"mb":130.2,"v":0.52},{"mb":130.4,"v":0.72},{"mb":130.4,"v":0.61},{"mb":130.4,"v":0.47},{"mb":132.0,"v":0.49},{"mb":132.0,"v":0.3},{"mb":134.6,"v":0.48},{"mb":135.6,"v":-0.04},{"mb":136.5,"v":0.59},{"mb":87.4,"v":0.26},{"mb":115.2,"v":0.25}
]
},
"layer": [
{
"layer": [
{"data": {"name": "cen"}, "mark": {"type": "rule", "strokeDash": [2, 3], "strokeWidth": 1.5, "color": "black"},
 "encoding": {
  "x": {"field": "g", "type": "quantitative", "scale": {"domain": [0, 3055.1], "nice": false, "zero": false},
   "axis": {"orient": "top", "values": [381,798,1157,1475,1753,2026,2253,2452,2621,2745,2849,3033], "labelExpr": "['2','4','6','8','10','12','14','16','18','20','22','Y'][indexof([381,798,1157,1475,1753,2026,2253,2452,2621,2745,2849,3033], datum.value)]", "ticks": false, "tickSize": 0, "domain": false, "grid": false, "labelFontSize": 25, "labelPadding": 4, "labelBaseline": "alphabetic", "labelAngle": 0, "labelOverlap": false, "labelBound": false, "labelFlush": false, "title": null}},
  "y": {"datum": 1.09, "type": "quantitative", "scale": {"domain": [-3.252, 1.09], "nice": false, "zero": false}, "axis": null},
  "y2": {"datum": -1.09}
 }},
{"data": {"name": "bnd"}, "mark": {"type": "rule", "strokeWidth": 1.5, "color": "black"},
 "encoding": {
  "x": {"field": "g", "type": "quantitative", "scale": {"domain": [0, 3055.1], "nice": false, "zero": false},
   "axis": {"orient": "bottom", "offset": -335.7, "values": [132,599,977,1319,1612,1890,2144,2357,2541,2694,2793,2929], "labelExpr": "['1','3','5','7','9','11','13','15','17','19','21','X'][indexof([132,599,977,1319,1612,1890,2144,2357,2541,2694,2793,2929], datum.value)]", "ticks": false, "tickSize": 0, "domain": false, "grid": false, "labelFontSize": 25, "labelPadding": 2, "labelBaseline": "top", "labelAngle": 0, "labelOverlap": false, "labelBound": false, "labelFlush": false, "title": null}},
  "y": {"datum": 1.09, "type": "quantitative", "scale": {"domain": [-3.252, 1.09], "nice": false, "zero": false}, "axis": null},
  "y2": {"datum": -1.09}
 }},
{"data": {"name": "conn"}, "mark": {"type": "rule", "strokeWidth": 1.5, "color": "black"},
 "encoding": {
  "x": {"field": "g", "type": "quantitative", "scale": {"domain": [0, 3055.1], "nice": false, "zero": false}, "axis": null},
  "x2": {"field": "g2"},
  "y": {"field": "v", "type": "quantitative", "scale": {"domain": [-3.252, 1.09], "nice": false, "zero": false}, "axis": null},
  "y2": {"field": "v2"}
 }},
{"data": {"values": [{}]}, "mark": {"type": "rect", "filled": false, "color": "black", "strokeWidth": 1.5},
 "encoding": {
  "x": {"datum": 0, "type": "quantitative", "scale": {"domain": [0, 3055.1], "nice": false, "zero": false}, "axis": null},
  "x2": {"datum": 3055.1},
  "y": {"datum": -1.09, "type": "quantitative", "scale": {"domain": [-3.252, 1.09], "nice": false, "zero": false}, "axis": null},
  "y2": {"datum": 1.09}
 }},
{"data": {"name": "gw"}, "mark": {"type": "point", "shape": "circle", "filled": true, "size": 20, "color": "black", "opacity": 1},
 "encoding": {
  "x": {"field": "g", "type": "quantitative", "scale": {"domain": [0, 3055.1], "nice": false, "zero": false}, "axis": null},
  "y": {"field": "v", "type": "quantitative", "scale": {"domain": [-3.252, 1.09], "nice": false, "zero": false},
   "axis": {"orient": "left", "values": [-1, -0.5, 0, 0.5, 1], "labelExpr": "datum.value < 0 ? '-' + format(-datum.value, '.1f') : format(datum.value, '.1f')", "labelAngle": 270, "labelAlign": "center", "labelBaseline": "bottom", "labelPadding": 4, "labelFontSize": 24, "tickSize": 7, "tickWidth": 1.5, "domain": false, "grid": true, "gridDash": [2, 3], "gridColor": "black", "gridWidth": 1.5, "gridOpacity": 1, "title": "Log2 ratio", "titleFontSize": 26, "titleFontWeight": "normal", "titleY": 169.3, "titlePadding": 8, "labelOverlap": false}}
 }},
{"data": {"name": "seg"}, "mark": {"type": "rule", "color": "#0000ff", "strokeWidth": 10},
 "encoding": {
  "x": {"field": "g", "type": "quantitative", "scale": {"domain": [0, 3055.1], "nice": false, "zero": false}, "axis": null},
  "x2": {"field": "g2"},
  "y": {"field": "v", "type": "quantitative", "scale": {"domain": [-3.252, 1.09], "nice": false, "zero": false}, "axis": null}
 }},
{"data": {"name": "seg"}, "mark": {"type": "point", "shape": "diamond", "filled": true, "size": 144, "color": "#0000ff", "opacity": 1},
 "encoding": {
  "x": {"field": "g", "type": "quantitative", "scale": {"domain": [0, 3055.1], "nice": false, "zero": false}, "axis": null},
  "y": {"field": "v", "type": "quantitative", "scale": {"domain": [-3.252, 1.09], "nice": false, "zero": false}, "axis": null}
 }},
{"data": {"name": "seg"}, "mark": {"type": "point", "shape": "diamond", "filled": true, "size": 144, "color": "#0000ff", "opacity": 1},
 "encoding": {
  "x": {"field": "g2", "type": "quantitative", "scale": {"domain": [0, 3055.1], "nice": false, "zero": false}, "axis": null},
  "y": {"field": "v", "type": "quantitative", "scale": {"domain": [-3.252, 1.09], "nice": false, "zero": false}, "axis": null}
 }}
],
"resolve": {"axis": {"x": "independent", "y": "independent"}}
},
{
"layer": [
{"data": {"name": "thr"}, "mark": {"type": "rule", "strokeDash": [7, 3, 2, 3], "strokeWidth": 1.5, "color": "#333333"},
 "encoding": {
  "y": {"field": "v", "type": "quantitative", "scale": {"domain": [-0.873, 3.543], "nice": false, "zero": false}, "axis": null},
  "x": {"datum": -3.34, "type": "quantitative", "scale": {"domain": [-5.063, 146.25], "nice": false, "zero": false}, "axis": null},
  "x2": {"datum": 142.56}
 }},
{"data": {"name": "cen9"}, "mark": {"type": "rule", "strokeDash": [15, 8], "strokeWidth": 3.5, "color": "black"},
 "encoding": {
  "x": {"field": "mb", "type": "quantitative", "scale": {"domain": [-5.063, 146.25], "nice": false, "zero": false}, "axis": null},
  "y": {"datum": 0.83, "type": "quantitative", "scale": {"domain": [-0.873, 3.543], "nice": false, "zero": false}, "axis": null},
  "y2": {"datum": -0.873}
 }},
{"data": {"values": [{}]}, "mark": {"type": "rect", "filled": false, "color": "black", "strokeWidth": 1.5},
 "encoding": {
  "x": {"datum": -3.34, "type": "quantitative", "scale": {"domain": [-5.063, 146.25], "nice": false, "zero": false}, "axis": null},
  "x2": {"datum": 142.56},
  "y": {"datum": -0.873, "type": "quantitative", "scale": {"domain": [-0.873, 3.543], "nice": false, "zero": false}, "axis": null},
  "y2": {"datum": 0.865}
 }},
{"data": {"name": "c9"}, "mark": {"type": "point", "shape": "diamond", "filled": true, "size": 100, "color": "black", "opacity": 1},
 "encoding": {
  "x": {"field": "mb", "type": "quantitative", "scale": {"domain": [-5.063, 146.25], "nice": false, "zero": false},
   "axis": {"orient": "bottom", "values": [0, 20, 40, 60, 80, 100, 120, 140], "format": "d", "tickSize": 12, "tickWidth": 1.5, "labelFontSize": 26, "labelPadding": 13, "domain": false, "grid": false, "labelOverlap": false, "labelFlush": false, "labelBound": false, "title": "Position auf Chromosom in Mb", "titleFontSize": 30, "titleFontWeight": "normal", "titlePadding": 4}},
  "y": {"field": "v", "type": "quantitative", "scale": {"domain": [-0.873, 3.543], "nice": false, "zero": false},
   "axis": {"orient": "left", "offset": -11.7, "values": [-0.5, 0, 0.5], "labelExpr": "datum.value < 0 ? '-' + format(-datum.value, '.1f') : format(datum.value, '.1f')", "labelAngle": 270, "labelAlign": "center", "labelBaseline": "bottom", "labelPadding": 7, "labelFontSize": 28, "tickSize": 12, "tickWidth": 1.5, "domain": false, "grid": false, "title": null, "labelOverlap": false}}
 }},
{"data": {"name": "step"}, "mark": {"type": "line", "color": "#0000ff", "strokeWidth": 4},
 "encoding": {
  "x": {"field": "mb", "type": "quantitative", "scale": {"domain": [-5.063, 146.25], "nice": false, "zero": false}, "axis": null},
  "y": {"field": "v", "type": "quantitative", "scale": {"domain": [-0.873, 3.543], "nice": false, "zero": false}, "axis": null}
 }}
],
"resolve": {"axis": {"x": "independent", "y": "independent"}}
}
],
"resolve": {"scale": {"x": "independent", "y": "independent"}, "axis": {"x": "independent", "y": "independent"}}
}
